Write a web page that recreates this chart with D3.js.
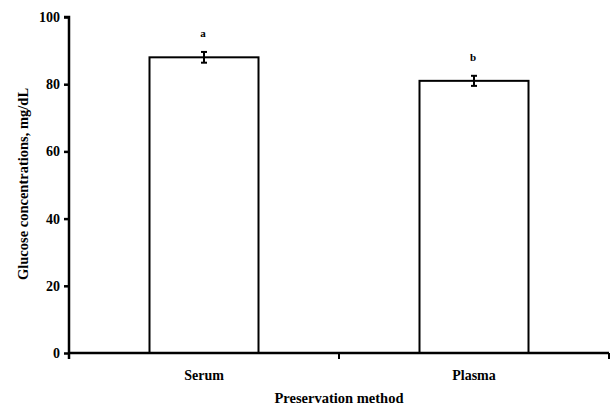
<!DOCTYPE html>
<html><head><meta charset="utf-8">
<script src="https://cdn.jsdelivr.net/npm/d3@7"></script>
<style>body{margin:0;background:#fff}svg{display:block}svg text{font-family:"Times New Roman","Liberation Serif",Times,serif !important;font-weight:bold;fill:#000}</style>
</head><body><svg id="c" width="610" height="406"></svg>
<script>
const categories = ["Serum", "Plasma"];
const values = [88, 81];
const errors = [1.6, 1.5];
const letters = ["a", "b"];
const yTicks = [0, 20, 40, 60, 80, 100];

(function () {
const svg = d3.select("#c");
const mLeft = 69, mRight = 609, mTop = 17, mBottom = 353;
const x = d3.scaleBand().domain(categories).range([mLeft, mRight]).paddingInner(0).paddingOuter(0);
const y = d3.scaleLinear().domain([0, 100]).range([mBottom, mTop]);
const barW = 109;

svg.selectAll("rect.bar").data(categories).enter().append("rect")
  .attr("x", (d) => x(d) + x.bandwidth() / 2 - barW / 2)
  .attr("y", (d, i) => y(values[i]))
  .attr("width", barW)
  .attr("height", (d, i) => y(0) - y(values[i]))
  .attr("fill", "#fff").attr("stroke", "#000").attr("stroke-width", 2);

const eb = svg.selectAll("g.eb").data(categories).enter().append("g")
  .attr("stroke", "#000").attr("stroke-width", 2);
eb.append("line").attr("x1", d => x(d) + x.bandwidth() / 2).attr("x2", d => x(d) + x.bandwidth() / 2)
  .attr("y1", (d, i) => y(values[i] + errors[i])).attr("y2", (d, i) => y(values[i] - errors[i]));
eb.append("line").attr("x1", d => x(d) + x.bandwidth() / 2 - 3).attr("x2", d => x(d) + x.bandwidth() / 2 + 3)
  .attr("y1", (d, i) => y(values[i] + errors[i])).attr("y2", (d, i) => y(values[i] + errors[i]));
eb.append("line").attr("x1", d => x(d) + x.bandwidth() / 2 - 3).attr("x2", d => x(d) + x.bandwidth() / 2 + 3)
  .attr("y1", (d, i) => y(values[i] - errors[i])).attr("y2", (d, i) => y(values[i] - errors[i]));

svg.selectAll("text.let").data(categories).enter().append("text")
  .attr("x", d => x(d) + x.bandwidth() / 2 - 1)
  .attr("y", (d, i) => y(values[i] + errors[i]) - 15)
  .attr("text-anchor", "middle").style("font-size", "11px").text((d, i) => letters[i]);

const yAxis = svg.append("g").attr("transform", `translate(${mLeft},0)`)
  .call(d3.axisLeft(y).tickValues(yTicks).tickSize(5).tickPadding(4).tickFormat(d3.format("d")));
yAxis.select(".domain").attr("stroke-width", 2.5).attr("d", `M-5,${mTop}H0V${mBottom + 6}`);
yAxis.selectAll(".tick line").attr("stroke-width", 2.5);
yAxis.selectAll(".tick text").style("font-size", "14px");

const xAxis = svg.append("g").attr("transform", `translate(0,${mBottom})`)
  .call(d3.axisBottom(x).tickSize(0).tickPadding(17));
xAxis.select(".domain").attr("stroke-width", 2.5).attr("d", `M${mLeft},0H${mRight}`);
xAxis.selectAll(".tick text").style("font-size", "14px");
const bounds = [x("Plasma"), mRight];
xAxis.selectAll("line.bt").data(bounds).enter().append("line")
  .attr("x1", d => d).attr("x2", d => d).attr("y1", 0).attr("y2", 6)
  .attr("stroke", "#000").attr("stroke-width", 2);

svg.append("text").attr("x", (mLeft + mRight) / 2).attr("y", 403).attr("text-anchor", "middle")
  .style("font-size", "14.5px").text("Preservation method");
svg.append("text").attr("transform", `translate(28,${(mTop + mBottom) / 2 - 1}) rotate(-90)`)
  .attr("text-anchor", "middle").style("font-size", "14.5px").text("Glucose concentrations, mg/dL");
})();
</script></body></html>
